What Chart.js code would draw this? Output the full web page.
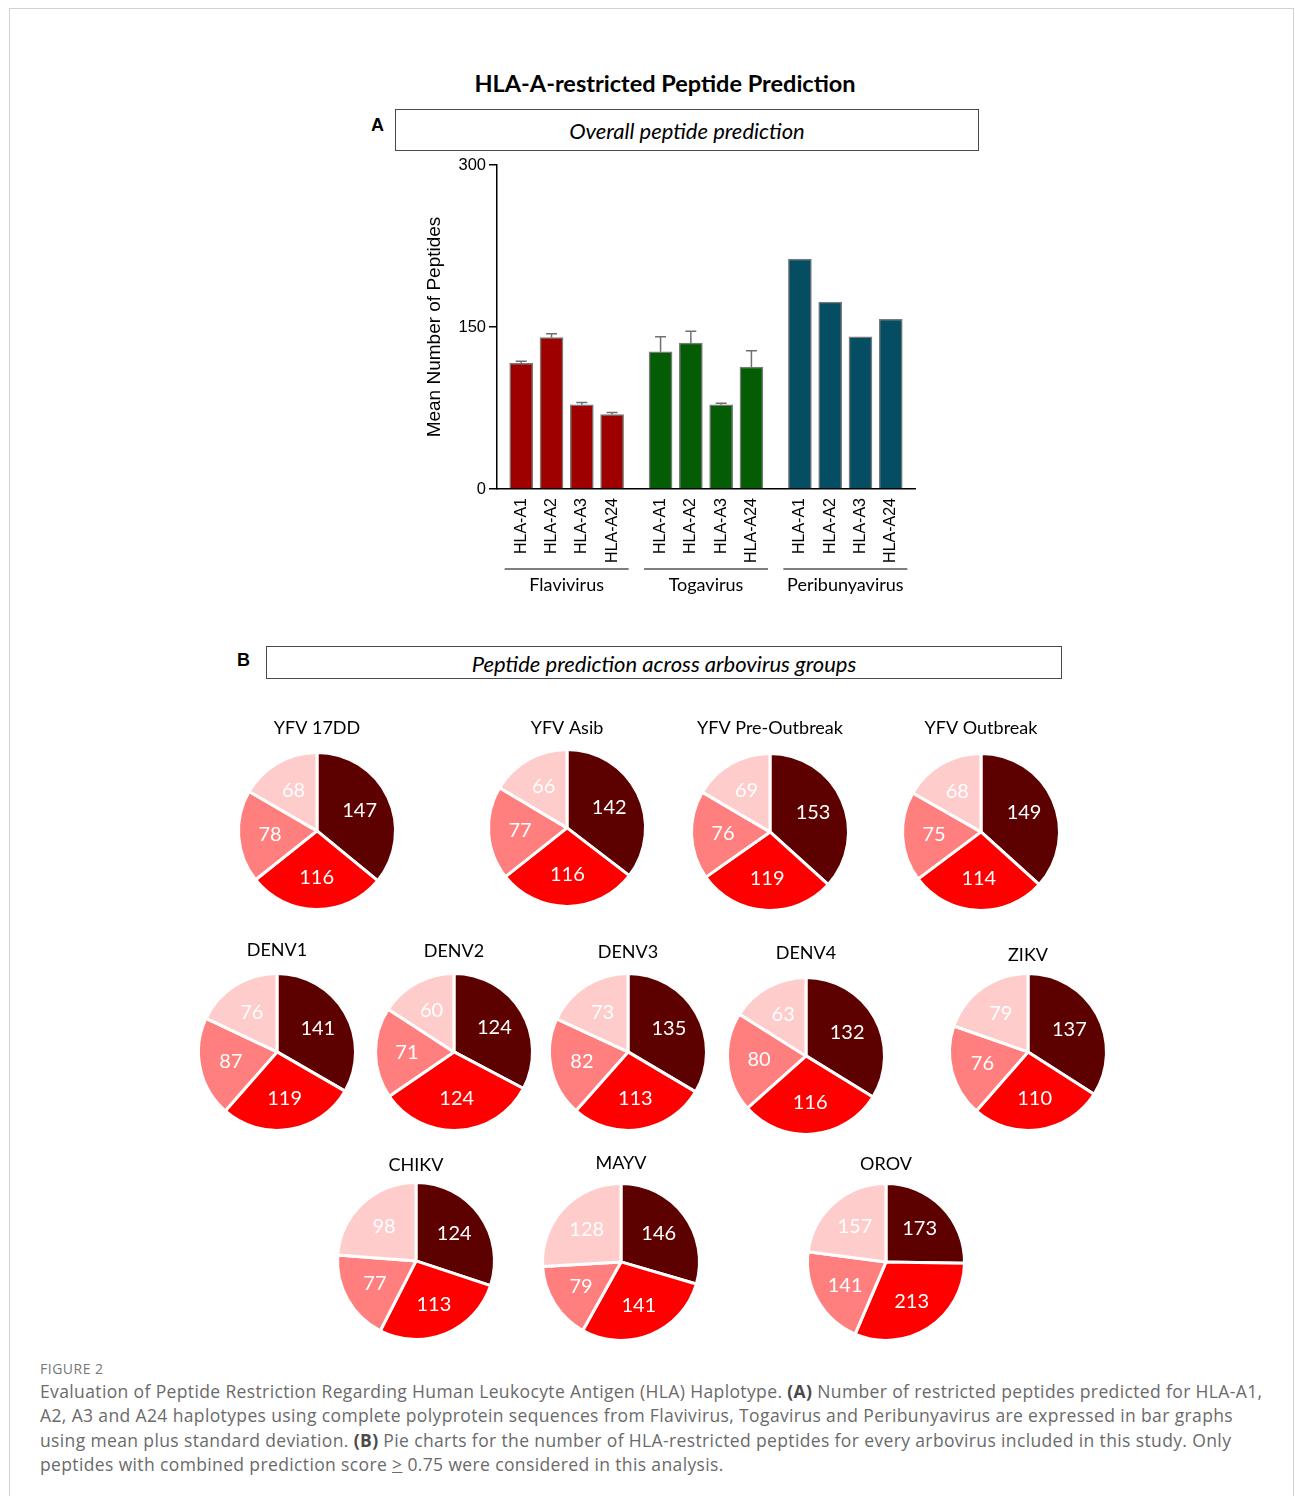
<!DOCTYPE html>
<html>
<head>
<meta charset="utf-8">
<script src="https://cdn.jsdelivr.net/npm/chart.js@4.4.1/dist/chart.umd.min.js"></script>
<style>
  html, body { margin: 0; padding: 0; background: #fff; }
  body { width: 1295px; height: 1496px; position: relative; overflow: hidden; font-family: 'Liberation Sans', Arial, sans-serif; }
  .frame { position: absolute; left: 9px; top: 8px; width: 1283px; height: 1520px; border: 1.5px solid #d2d2d2; }
  .abs { position: absolute; }
  .main-title { left: 365px; width: 600px; top: 69px; text-align: center; font: bold 23.5px Lato, sans-serif; color: #000; }
  .panel-letter { font: bold 18px 'Liberation Sans', Arial, sans-serif; color: #000; }
  .panel-box { border: 1px solid #4a4a4a; box-sizing: border-box; text-align: center; font: italic 22px Lato, sans-serif; color: #000; }
  .caption { left: 40px; top: 1379px; width: 1250px; font: 17.5px 'Open Sans', sans-serif; color: #6a6a6a; line-height: 24.3px; letter-spacing: 0.37px; white-space: nowrap; }
  .caption b { color: #4a4a4a; }
  .fig-label { left: 40px; top: 1359px; font: 14px 'Open Sans', sans-serif; color: #777; letter-spacing: 0.5px; }
</style>
</head>
<body>
<div class="frame"></div>
<div class="abs main-title">HLA-A-restricted Peptide Prediction</div>

<div class="abs panel-letter" style="left:371px; top:115px;">A</div>
<div class="abs panel-box" style="left:395px; top:109px; width:584px; height:42px; line-height:42px;">Overall peptide prediction</div>
<canvas id="bar-canvas" class="abs" style="left:400px; top:150px;" width="530" height="450"></canvas>

<div class="abs panel-letter" style="left:237px; top:650px;">B</div>
<div class="abs panel-box" style="left:266px; top:646px; width:796px; height:33px; line-height:33px;">Peptide prediction across arbovirus groups</div>
<div id="pies"></div>

<div class="abs fig-label">FIGURE 2</div>
<div class="abs caption">Evaluation of Peptide Restriction Regarding Human Leukocyte Antigen (HLA) Haplotype. <b>(A)</b> Number of restricted peptides predicted for HLA-A1,<br>A2, A3 and A24 haplotypes using complete polyprotein sequences from Flavivirus, Togavirus and Peribunyavirus are expressed in bar graphs<br>using mean plus standard deviation. <b>(B)</b> Pie charts for the number of HLA-restricted peptides for every arbovirus included in this study. Only<br>peptides with combined prediction score <u>&gt;</u> 0.75 were considered in this analysis.</div>

<script>
// ---- panel A data ----
const hlaAlleles = ['HLA-A1', 'HLA-A2', 'HLA-A3', 'HLA-A24'];
const virusFamilies = ['Flavivirus', 'Togavirus', 'Peribunyavirus'];
const flavivirusMean = [116.3, 140.3, 78.0, 68.9];
const flavivirusSd = [2.0, 3.5, 2.0, 2.0];
const togavirusMean = [127, 135, 78, 113];
const togavirusSd = [14, 11, 1.5, 15];
const peribunyavirusMean = [213, 173, 141, 157];
const peribunyavirusSd = [0, 0, 0, 0];
const yTicks = [0, 150, 300];

// ---- panel B data (slices clockwise from 12 o'clock) ----
const pieViruses = ['YFV 17DD', 'YFV Asib', 'YFV Pre-Outbreak', 'YFV Outbreak',
  'DENV1', 'DENV2', 'DENV3', 'DENV4', 'ZIKV', 'CHIKV', 'MAYV', 'OROV'];
const sliceLabels = ['HLA-A2', 'HLA-A1', 'HLA-A3', 'HLA-A24'];
const pieA2 = [147, 142, 153, 149, 141, 124, 135, 132, 137, 124, 146, 173];
const pieA1 = [116, 116, 119, 114, 119, 124, 113, 116, 110, 113, 141, 213];
const pieA3 = [78, 77, 76, 75, 87, 71, 82, 80, 76, 77, 79, 141];
const pieA24 = [68, 66, 69, 68, 76, 60, 73, 63, 79, 98, 128, 157];

// layout only: pie centres and title heights in page px
const pieCenters = [[317, 831], [567, 828], [770, 832], [981, 832],
  [277, 1052], [454, 1052], [628, 1052], [806, 1056], [1028, 1052],
  [416, 1261], [621, 1262], [886, 1262]];
const pieTitleY = [728, 728, 728, 728, 950, 951, 952, 953, 955, 1165, 1163, 1164];

const familyColors = ['#9e0000', '#045c04', '#054d62'];
const sliceColors = ['#5c0000', '#ff0000', '#ff7f7f', '#ffcccc'];
const GROUP_STEP = 4.6;

Chart.defaults.font.family = "'Liberation Sans', Arial, sans-serif";
Chart.defaults.color = '#000';

const means = [flavivirusMean, togavirusMean, peribunyavirusMean];
const sds = [flavivirusSd, togavirusSd, peribunyavirusSd];
const tickPositions = [];
const tickNames = [];
virusFamilies.forEach((f, g) => hlaAlleles.forEach((a, i) => {
  tickPositions.push(g * GROUP_STEP + i);
  tickNames.push(a);
}));

// mean + sd whiskers
const errorBars = {
  id: 'errorBars',
  afterDatasetsDraw(chart) {
    const { ctx, scales: { x, y } } = chart;
    ctx.save();
    ctx.strokeStyle = '#707070';
    ctx.lineWidth = 1.5;
    chart.data.datasets.forEach((ds, g) => {
      ds.data.forEach((p, i) => {
        const sd = sds[g][i];
        if (!sd) return;
        const px = x.getPixelForValue(p.x);
        const top = y.getPixelForValue(p.y + sd);
        const base = y.getPixelForValue(p.y);
        ctx.beginPath();
        ctx.moveTo(px, base);
        ctx.lineTo(px, top);
        ctx.moveTo(px - 5.5, top);
        ctx.lineTo(px + 5.5, top);
        ctx.stroke();
      });
    });
    ctx.restore();
  }
};

// family brackets under the allele labels
const familyBrackets = {
  id: 'familyBrackets',
  afterDraw(chart) {
    const { ctx, scales: { x }, chartArea } = chart;
    ctx.save();
    ctx.strokeStyle = '#000';
    ctx.lineWidth = 1.2;
    ctx.fillStyle = '#000';
    ctx.font = '18px Lato, sans-serif';
    ctx.textAlign = 'center';
    ctx.textBaseline = 'middle';
    virusFamilies.forEach((f, g) => {
      const c = (x.getPixelForValue(g * GROUP_STEP) + x.getPixelForValue(g * GROUP_STEP + 3)) / 2;
      const ly = chartArea.bottom + 80;
      ctx.beginPath();
      ctx.moveTo(c - 62, ly);
      ctx.lineTo(c + 62, ly);
      ctx.stroke();
      ctx.fillText(f, c, ly + 16);
    });
    ctx.restore();
  }
};

new Chart('bar-canvas', {
  type: 'bar',
  data: {
    datasets: virusFamilies.map((f, g) => ({
      label: f,
      data: means[g].map((v, i) => ({ x: g * GROUP_STEP + i, y: v })),
      backgroundColor: familyColors[g],
      borderColor: '#7a7a7a',
      borderWidth: 1.5,
      barThickness: 23,
      grouped: false
    }))
  },
  options: {
    responsive: false,
    animation: false,
    layout: { padding: { left: 23, right: 15, top: 15, bottom: 30 } },
    plugins: { legend: { display: false }, tooltip: { enabled: false } },
    scales: {
      x: {
        type: 'linear',
        offset: false,
        min: -0.8,
        max: 13.0,
        grid: { display: false },
        border: { display: true, color: '#000', width: 1.5 },
        afterBuildTicks: axis => { axis.ticks = tickPositions.map(v => ({ value: v })); },
        afterFit: scale => { scale.height = 81; },
        ticks: {
          autoSkip: false,
          minRotation: 90,
          maxRotation: 90,
          padding: 1,
          font: { size: 16 },
          color: '#000',
          callback: (v, i) => tickNames[i]
        }
      },
      y: {
        min: 0,
        max: 300,
        afterBuildTicks: axis => { axis.ticks = yTicks.map(v => ({ value: v })); },
        afterFit: scale => { scale.width = 74; },
        grid: { drawOnChartArea: false, drawTicks: true, tickLength: 8, color: '#000', lineWidth: 1.5 },
        border: { display: true, color: '#000', width: 1.5 },
        ticks: { font: { size: 16.5 }, color: '#000', padding: 3 },
        title: { display: true, text: 'Mean Number of Peptides', font: { size: 19 }, color: '#000', padding: 0 }
      }
    }
  },
  plugins: [errorBars, familyBrackets]
});

// white numbers inside slices
const sliceValues = {
  id: 'sliceValues',
  afterDatasetsDraw(chart) {
    const { ctx } = chart;
    const meta = chart.getDatasetMeta(0);
    ctx.save();
    ctx.fillStyle = '#fff';
    ctx.font = '20px Lato, sans-serif';
    ctx.textAlign = 'center';
    ctx.textBaseline = 'middle';
    meta.data.forEach((arc, i) => {
      const a = (arc.startAngle + arc.endAngle) / 2;
      const r = arc.outerRadius * 0.6;
      ctx.fillText(chart.data.datasets[0].data[i], arc.x + Math.cos(a) * r, arc.y + Math.sin(a) * r);
    });
    ctx.restore();
  }
};

const pieHolder = document.getElementById('pies');
pieViruses.forEach((name, k) => {
  const [cx, cy] = pieCenters[k];
  const top = pieTitleY[k] - 10.8 - 5;
  const padBottom = (cy - 80) - top - 5 - 21.6;
  const cv = document.createElement('canvas');
  cv.width = 170;
  cv.height = Math.round(cy + 80 - top);
  cv.className = 'abs';
  cv.style.left = (cx - 85) + 'px';
  cv.style.top = top + 'px';
  pieHolder.appendChild(cv);
  new Chart(cv, {
    type: 'pie',
    data: {
      labels: sliceLabels,
      datasets: [{
        data: [pieA2[k], pieA1[k], pieA3[k], pieA24[k]],
        backgroundColor: sliceColors,
        borderColor: '#fff',
        borderWidth: 3
      }]
    },
    options: {
      responsive: false,
      animation: false,
      layout: { padding: { left: 5, right: 5 } },
      plugins: {
        legend: { display: false },
        tooltip: { enabled: false },
        title: {
          display: true,
          text: name,
          color: '#000',
          font: { family: 'Lato, sans-serif', size: 18, weight: 'normal' },
          padding: { top: 5, bottom: padBottom }
        }
      }
    },
    plugins: [sliceValues]
  });
});
</script>
</body>
</html>
